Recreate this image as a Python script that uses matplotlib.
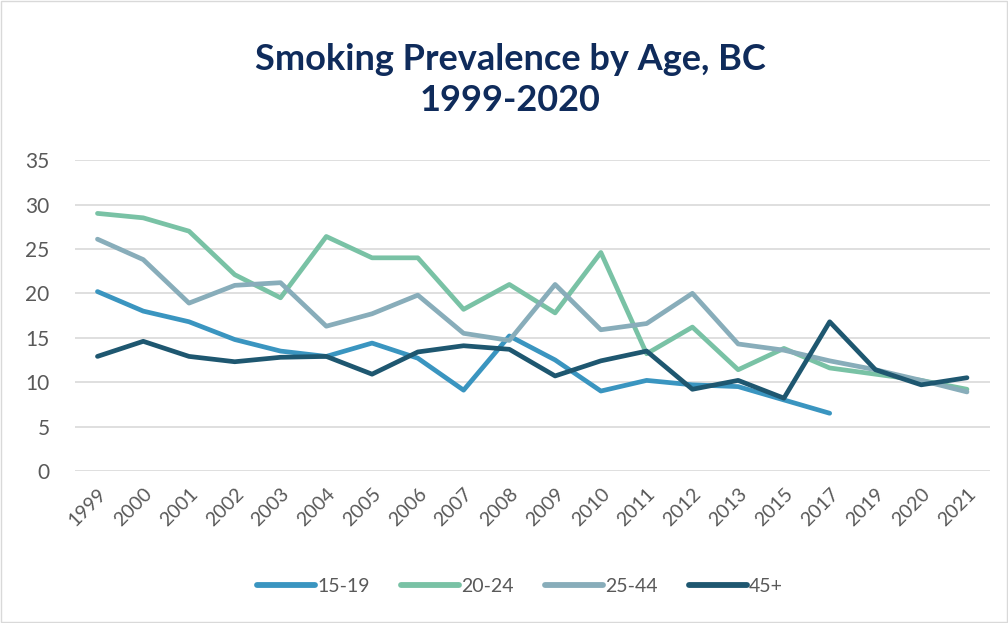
import matplotlib.pyplot as plt
import numpy as np

plt.rcParams['font.family'] = ['Lato', 'DejaVu Sans']

years = ['1999', '2000', '2001', '2002', '2003', '2004', '2005', '2006', '2007',
         '2008', '2009', '2010', '2011', '2012', '2013', '2015', '2017', '2019',
         '2020', '2021']

age_15_19 = [20.2, 18.0, 16.8, 14.8, 13.5, 12.9, 14.4, 12.7, 9.1, 15.2, 12.5,
             9.0, 10.2, 9.7, 9.5, 8.0, 6.5, None, None, None]
age_20_24 = [29.0, 28.5, 27.0, 22.1, 19.5, 26.4, 24.0, 24.0, 18.2, 21.0, 17.8,
             24.6, 13.2, 16.2, 11.4, 13.8, 11.6, 10.9, 10.2, 9.2]
age_25_44 = [26.1, 23.8, 18.9, 20.9, 21.2, 16.3, 17.7, 19.8, 15.5, 14.7, 21.0,
             15.9, 16.6, 20.0, 14.3, 13.6, 12.4, 11.4, 10.2, 8.9]
age_45_plus = [12.9, 14.6, 12.9, 12.3, 12.8, 12.9, 10.9, 13.4, 14.1, 13.7, 10.7,
               12.4, 13.5, 9.2, 10.2, 8.2, 16.8, 11.4, 9.7, 10.5]

series = [
    ('15-19', age_15_19, '#3a95c0'),
    ('20-24', age_20_24, '#79c2a5'),
    ('25-44', age_25_44, '#88adba'),
    ('45+', age_45_plus, '#1e5770'),
]

fig = plt.figure(figsize=(10.08, 6.23), dpi=100)
ax = fig.add_axes([0.074, 0.244, 0.908, 0.499])

x = np.arange(len(years))
for name, vals, color in series:
    y = np.array([np.nan if v is None else v for v in vals], dtype=float)
    ax.plot(x, y, color=color, lw=3.4, label=name, solid_capstyle='round',
            solid_joinstyle='round')

ax.set_xlim(-0.5, len(years) - 0.5)
ax.set_ylim(0, 35)
ax.set_yticks(np.arange(0, 36, 5))
ax.set_xticks(x)
ax.set_xticklabels(years, rotation=45, ha='right', rotation_mode='anchor')
ax.yaxis.grid(True, color='#d9d9d9', lw=1.2)
ax.set_axisbelow(True)
for s in ax.spines.values():
    s.set_visible(False)
ax.tick_params(length=0, colors='#595959')
ax.tick_params(axis='y', labelsize=15, pad=18)
ax.tick_params(axis='x', labelsize=14, pad=10)

fig.text(0.506, 0.872, 'Smoking Prevalence by Age, BC\n1999-2020', ha='center',
         va='center', fontsize=26, fontweight='bold', color='#0f2b5b',
         linespacing=1.3)

leg = fig.legend(loc='center', bbox_to_anchor=(0.516, 0.059), ncol=4, frameon=False,
                 fontsize=14, handlelength=3.0, handletextpad=0.1, columnspacing=1.6,
                 labelcolor='#595959')
for h in leg.get_lines():
    h.set_linewidth(4.2)

# thin frame round the chart area
fig.patches.append(plt.Rectangle((0.001, 0.001), 0.998, 0.998, transform=fig.transFigure,
                                 fill=False, edgecolor='#d9d9d9', lw=1))

fig.savefig('out.png', dpi=100)
